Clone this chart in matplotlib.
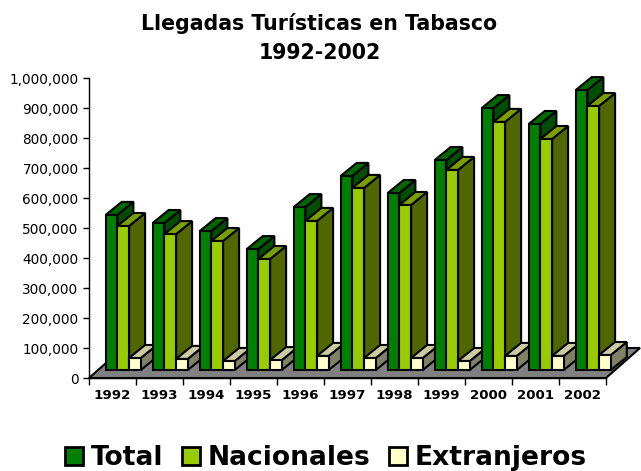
import matplotlib
matplotlib.use("Agg")
import matplotlib.pyplot as plt
from matplotlib.patches import Polygon, Rectangle
from matplotlib.ticker import FuncFormatter

years = ["1992", "1993", "1994", "1995", "1996", "1997", "1998", "1999", "2000", "2001", "2002"]
total = [517000, 490000, 463000, 403000, 543000, 647000, 590000, 700000, 873000, 820000, 933000]
nacionales = [480000, 453000, 430000, 370000, 497000, 607000, 550000, 667000, 827000, 770000, 880000]
extranjeros = [40000, 37000, 30000, 33000, 47000, 40000, 40000, 30000, 47000, 47000, 50000]
series_names = ["Total", "Nacionales", "Extranjeros"]
fronts = ["#008000", "#99CC00", "#FFFFCC"]
tops = ["#006600", "#7A9F00", "#CCCCA3"]
sides = ["#004D00", "#526600", "#808066"]

W, H = 641, 471
fig = plt.figure(figsize=(W / 100, H / 100), dpi=100, facecolor="white")
L, R, T, B = 89, 606, 78, 378
ax = fig.add_axes([L / W, 1 - B / H, (R - L) / W, (B - T) / H])
ax.set_xlim(0, len(years))
ax.set_ylim(0, 1000000)

px = len(years) / (R - L)      # data units per pixel, x
py = 1000000 / (B - T)         # data units per pixel, y
LW = 1.5


def poly(pts, color, z):
    ax.add_patch(Polygon(pts, closed=True, facecolor=color, edgecolor="black",
                         linewidth=LW, joinstyle="miter", clip_on=False, zorder=z))


# floor
n = len(years)
poly([(0, 0), (n, 0), (n + 34 * px, 30 * py), (34 * px, 30 * py)], "#808080", 1)

base = 8 * py
bar_w = 11.7 * px
dx = 16 * px
dy = 13 * py
first = 16.7 * px
z = 2
for i in range(n):
    for j, vals in enumerate((total, nacionales, extranjeros)):
        x0 = i + first + j * bar_w
        x1 = x0 + bar_w
        y1 = base + vals[i]
        poly([(x1, base), (x1 + dx, base + dy), (x1 + dx, y1 + dy), (x1, y1)], sides[j], z)
        poly([(x0, y1), (x1, y1), (x1 + dx, y1 + dy), (x0 + dx, y1 + dy)], tops[j], z)
        poly([(x0, base), (x1, base), (x1, y1), (x0, y1)], fronts[j], z)
        z += 1

for s in ("top", "right"):
    ax.spines[s].set_visible(False)
for s in ("left", "bottom"):
    ax.spines[s].set_linewidth(1.0)
    ax.spines[s].set_zorder(1.5)

ax.set_yticks(range(0, 1000001, 100000))
ax.yaxis.set_major_formatter(FuncFormatter(lambda v, _: f"{int(v):,}"))
ax.tick_params(axis="y", labelsize=9.8, length=4, width=1, pad=3.5, colors="black")
ax.set_xticks(range(n + 1))
ax.set_xticklabels([])
ax.tick_params(axis="x", length=5, width=1)
ax.set_xticks([i + 0.5 for i in range(n)], minor=True)
ax.set_xticklabels(years, minor=True, fontsize=9.6, fontweight="bold")
ax.tick_params(axis="x", which="minor", length=0, pad=8)

fig.text(319.5 / W, 1 - 24 / H, "Llegadas Turísticas en Tabasco", ha="center", va="center",
         fontsize=14.8, fontweight="bold")
fig.text(319.5 / W, 1 - 53 / H, "1992-2002", ha="center", va="center",
         fontsize=14.8, fontweight="bold")

handles = [Rectangle((0, 0), 1, 1, facecolor=c, edgecolor="black", linewidth=2) for c in fronts]
fig.legend(handles, series_names, loc="center", bbox_to_anchor=(326 / W, 1 - 458 / H), ncol=3,
           frameon=False, handlelength=0.66, handleheight=0.66, handletextpad=0.3,
           columnspacing=0.72, borderpad=0, prop={"size": 19.1, "weight": "bold"})

fig.savefig("out.png", dpi=100, facecolor="white")
